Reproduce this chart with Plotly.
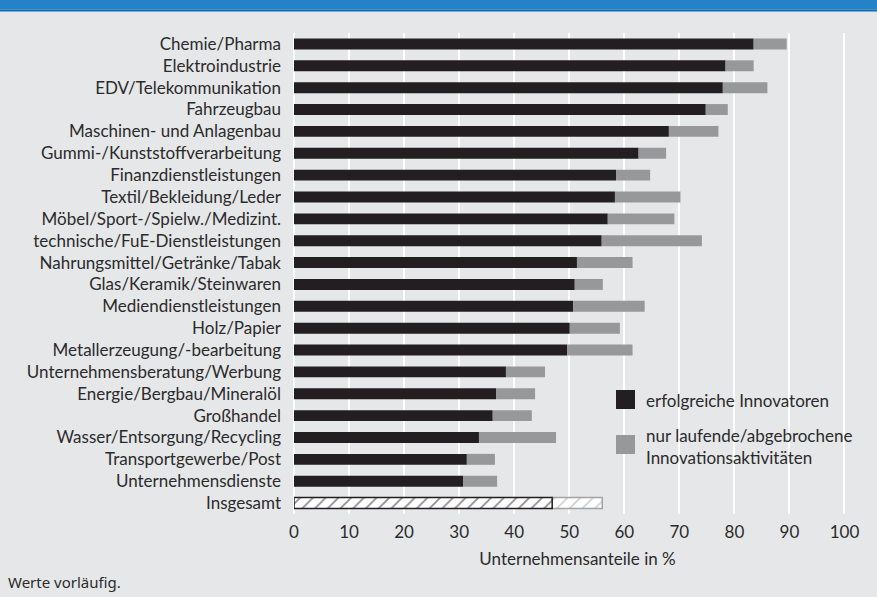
import plotly.graph_objects as go

categories = [
    "Chemie/Pharma", "Elektroindustrie", "EDV/Telekommunikation", "Fahrzeugbau",
    "Maschinen- und Anlagenbau", "Gummi-/Kunststoffverarbeitung", "Finanzdienstleistungen",
    "Textil/Bekleidung/Leder", "Möbel/Sport-/Spielw./Medizint.", "technische/FuE-Dienstleistungen",
    "Nahrungsmittel/Getränke/Tabak", "Glas/Keramik/Steinwaren", "Mediendienstleistungen",
    "Holz/Papier", "Metallerzeugung/-bearbeitung", "Unternehmensberatung/Werbung",
    "Energie/Bergbau/Mineralöl", "Großhandel", "Wasser/Entsorgung/Recycling",
    "Transportgewerbe/Post", "Unternehmensdienste",
]
erfolgreich = [83.5, 78.4, 77.9, 74.8, 68.1, 62.6, 58.5, 58.3, 57.0, 55.9,
               51.4, 51.0, 50.7, 50.1, 49.6, 38.5, 36.7, 36.1, 33.6, 31.4, 30.7]
gesamt = [89.5, 83.5, 86.0, 78.8, 77.1, 67.6, 64.7, 70.2, 69.1, 74.1,
          61.5, 56.1, 63.7, 59.2, 61.5, 45.6, 43.8, 43.2, 47.6, 36.5, 36.9]
total_label = "Insgesamt"
total_erfolgreich = 46.9
total_gesamt = 56.0
x_ticks = [0, 10, 20, 30, 40, 50, 60, 70, 80, 90, 100]
legend_labels = ["erfolgreiche Innovatoren", "nur laufende/abgebrochene<br>Innovationsaktivitäten"]

BLACK = "#231f20"
GRAY = "#97989a"
BG = "#e6e7e9"
TXT = "#2b2b2b"
FS = 17

laufend = [g - e for g, e in zip(gesamt, erfolgreich)]

fig = go.Figure()
fig.add_trace(go.Bar(y=categories, x=erfolgreich, base=0, orientation="h",
                     marker=dict(color=BLACK, line=dict(width=0)), width=0.5,
                     name=legend_labels[0], showlegend=False))
fig.add_trace(go.Bar(y=categories, x=laufend, base=erfolgreich, orientation="h",
                     marker=dict(color=GRAY, line=dict(width=0)), width=0.5,
                     name="nur laufende/abgebrochene Innovationsaktivitäten", showlegend=False))
fig.add_trace(go.Bar(y=[total_label], x=[total_gesamt - total_erfolgreich], base=[total_erfolgreich],
                     orientation="h", width=0.5, showlegend=False,
                     marker=dict(color="white", line=dict(color="#a3a3a3", width=1.5),
                                 pattern=dict(shape="/", fgcolor="#a3a3a3", bgcolor="white",
                                              size=9, solidity=0.2))))
fig.add_trace(go.Bar(y=[total_label], x=[total_erfolgreich], base=[0],
                     orientation="h", width=0.5, showlegend=False,
                     marker=dict(color="white", line=dict(color=BLACK, width=1.5),
                                 pattern=dict(shape="/", fgcolor=BLACK, bgcolor="white",
                                              size=9, solidity=0.2))))

all_cats = categories + [total_label]

# pixel -> paper helpers (plot area: x 294..861, y 33..514)
L, R, T, B = 294, 861, 33, 514
def px(x):
    return (x - L) / (R - L)
def py(y):
    return (B - y) / (B - T)

shapes = [
    dict(type="rect", xref="paper", yref="paper", x0=px(0), x1=px(877), y0=py(0), y1=py(9.5),
         fillcolor="#2581c8", line=dict(width=0), layer="above"),
    dict(type="rect", xref="paper", yref="paper", x0=px(0), x1=px(877), y0=py(9.5), y1=py(11.5),
         fillcolor="#0b6cb5", line=dict(width=0), layer="above"),
    dict(type="rect", xref="paper", yref="paper", x0=px(616), x1=px(635), y0=py(409), y1=py(390),
         fillcolor=BLACK, line=dict(width=0)),
    dict(type="rect", xref="paper", yref="paper", x0=px(616), x1=px(635), y0=py(454), y1=py(435),
         fillcolor=GRAY, line=dict(width=0)),
]
annotations = [
    dict(xref="paper", yref="paper", x=px(644), y=py(400), text=legend_labels[0],
         showarrow=False, xanchor="left", yanchor="middle",
         font=dict(family="Lato", size=FS, color=TXT)),
    dict(xref="paper", yref="paper", x=px(644), y=py(446), text=legend_labels[1],
         showarrow=False, xanchor="left", yanchor="middle", align="left",
         font=dict(family="Lato", size=FS, color=TXT)),
    dict(xref="paper", yref="paper", x=px(6), y=py(582), text="Werte vorläufig.",
         showarrow=False, xanchor="left", yanchor="middle",
         font=dict(family="Noto Sans", size=15, color=TXT)),
]

fig.update_layout(
    width=877, height=597,
    margin=dict(l=L, r=877 - R, t=T, b=597 - B, pad=0),
    paper_bgcolor=BG, plot_bgcolor=BG,
    barmode="overlay",
    font=dict(family="Lato", size=FS, color=TXT),
    shapes=shapes, annotations=annotations,
    xaxis=dict(range=[0, 103], tickvals=x_ticks, showgrid=True, gridcolor="white", gridwidth=1.5,
               zeroline=True, zerolinecolor="white", zerolinewidth=1.5, showline=False,
               ticks="", ticklabelstandoff=6,
               title=dict(text="Unternehmensanteile in %", standoff=12,
                          font=dict(family="Lato", size=FS, color=TXT))),
    yaxis=dict(type="category", categoryorder="array", categoryarray=all_cats,
               range=[len(all_cats) - 0.5, -0.5], showgrid=False, zeroline=False,
               ticks="", ticklabelstandoff=12),
)

fig.write_html("out.html", config={"displayModeBar": False},
               post_script="document.body.style.margin='0';document.body.style.overflow='hidden';")
